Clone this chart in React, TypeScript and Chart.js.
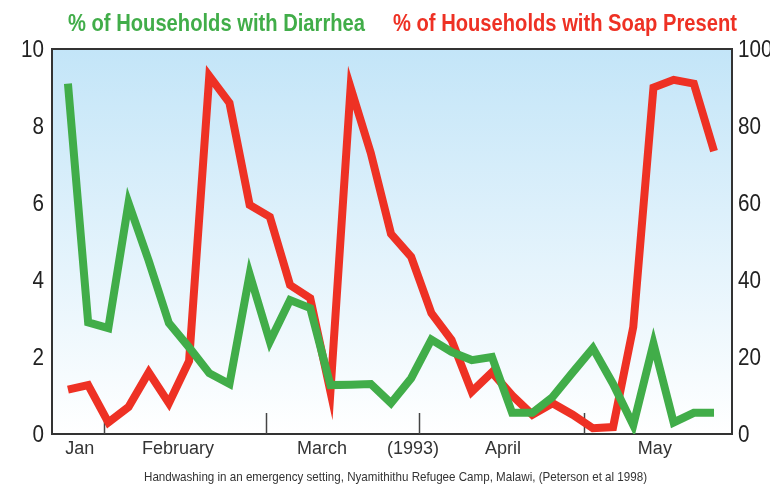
import React, { useEffect, useRef } from "react";
import { Chart, registerables } from "chart.js";

Chart.register(...registerables);

// Week index of each survey (evenly spaced observations)
const weeks = [0, 1, 2, 3, 4, 5, 6, 7, 8, 9, 10, 11, 12, 13, 14, 15, 16, 17, 18, 19, 20, 21, 22, 23, 24, 25, 26, 27, 28, 29, 30, 31, 32];

// % of households with diarrhea (left axis, 0-10)
const diarrhea = [9.1, 2.9, 2.75, 6.0, 4.5, 2.88, 2.25, 1.58, 1.3, 4.15, 2.4, 3.48, 3.27, 1.27, 1.28, 1.3, 0.8, 1.45, 2.45, 2.13, 1.92, 2.0, 0.55, 0.55, 0.96, 1.6, 2.23, 1.3, 0.23, 2.35, 0.3, 0.55, 0.55];

// % of households with soap present (right axis, 0-100)
const soap = [11.5, 12.7, 3, 7, 16, 8, 19, 93, 86, 59.5, 56.4, 38.7, 35.3, 11, 90, 73, 52, 46, 31.4, 24.4, 11, 16, 10, 5, 8, 5, 1.5, 1.8, 27.8, 90, 92, 91, 73.5];

// x-axis month labels and where they sit (in week units)
const monthLabels = ["Jan", "February", "March", "(1993)", "April", "May"];
const monthLabelPos = [0.59, 5.45, 12.58, 17.09, 21.55, 29.07];
const monthBoundaries = [1.78, 9.8, 17.38, 25.56];

const leftTicks = [0, 2, 4, 6, 8, 10];
const rightTicks = [0, 20, 40, 60, 80, 100];

const seriesNames = ["% of Households with Diarrhea", "% of Households with Soap Present"];
const caption = "Handwashing in an emergency setting, Nyamithithu Refugee Camp, Malawi, (Peterson et al 1998)";

const GREEN = "#41ad49";
const RED = "#ee3124";
const FONT = "'Liberation Sans', Arial, sans-serif";

// draw text horizontally condensed (no narrow face installed)
function narrowText(ctx: any, text: string, x: number, y: number, sx: number, align: string) {
  const w = ctx.measureText(text).width * sx;
  let left = x;
  if (align === "right") left = x - w;
  else if (align === "center") left = x - w / 2;
  ctx.save();
  ctx.textAlign = "left";
  ctx.translate(left, y);
  ctx.scale(sx, 1);
  ctx.fillText(text, 0, 0);
  ctx.restore();
}

function fitText(ctx: any, text: string, x: number, y: number, width: number, align: string) {
  const sx = width / ctx.measureText(text).width;
  narrowText(ctx, text, x, y, sx, align);
}

const decor = {
  id: "decor",
  beforeDraw(chart: any) {
    const { ctx, chartArea: a } = chart;
    ctx.save();
    const g = ctx.createLinearGradient(0, a.top, 0, a.bottom);
    g.addColorStop(0, "#c3e5f8");
    g.addColorStop(1, "#ffffff");
    ctx.fillStyle = g;
    ctx.fillRect(a.left, a.top, a.right - a.left, a.bottom - a.top);
    ctx.restore();
  },
  beforeDatasetsDraw(chart: any) {
    const { ctx, chartArea: a } = chart;
    const xs = chart.scales.x;
    ctx.save();
    ctx.strokeStyle = "#333";
    ctx.lineWidth = 2;
    ctx.strokeRect(a.left, a.top, a.right - a.left, a.bottom - a.top);
    ctx.strokeStyle = "#444";
    ctx.lineWidth = 1.5;
    monthBoundaries.forEach((v) => {
      const px = Math.round(xs.getPixelForValue(v)) + 0.5;
      ctx.beginPath();
      ctx.moveTo(px, a.bottom);
      ctx.lineTo(px, a.bottom - 21);
      ctx.stroke();
    });
    ctx.restore();
  },
  afterDraw(chart: any) {
    const { ctx, chartArea: a } = chart;
    ctx.save();
    ctx.textBaseline = "alphabetic";
    // series titles
    ctx.font = `bold 24px ${FONT}`;
    ctx.fillStyle = GREEN;
    fitText(ctx, seriesNames[0], 68, 31, 297, "left");
    ctx.fillStyle = RED;
    fitText(ctx, seriesNames[1], 393, 31, 344, "left");
    // y axis labels (positions from the scales)
    ctx.font = `24px ${FONT}`;
    ctx.fillStyle = "#222";
    ctx.textBaseline = "middle";
    const ys = chart.scales.y;
    ys.ticks.forEach((t: any) => {
      narrowText(ctx, String(t.value), a.left - 8, ys.getPixelForValue(t.value) + 1, 0.86, "right");
    });
    const ys1 = chart.scales.y1;
    ys1.ticks.forEach((t: any) => {
      narrowText(ctx, String(t.value), a.right + 6, ys1.getPixelForValue(t.value) + 1, 0.86, "left");
    });
    // caption
    ctx.textBaseline = "alphabetic";
    ctx.font = `13px ${FONT}`;
    ctx.fillStyle = "#333";
    fitText(ctx, caption, 395.5, 481, 503, "center");
    ctx.restore();
  },
};

export default function App() {
  const ref = useRef<HTMLCanvasElement | null>(null);

  useEffect(() => {
    document.body.style.margin = "0";
    const canvas = ref.current;
    if (!canvas) return;
    const chart = new Chart(canvas, {
      type: "line",
      data: {
        datasets: [
          {
            label: seriesNames[0],
            data: weeks.map((w, i) => ({ x: w, y: diarrhea[i] })),
            borderColor: GREEN,
            borderWidth: 8,
            borderJoinStyle: "miter",
            borderCapStyle: "butt",
            pointRadius: 0,
            tension: 0,
            yAxisID: "y",
          },
          {
            label: seriesNames[1],
            data: weeks.map((w, i) => ({ x: w, y: soap[i] })),
            borderColor: RED,
            borderWidth: 8,
            borderJoinStyle: "miter",
            borderCapStyle: "butt",
            pointRadius: 0,
            tension: 0,
            yAxisID: "y1",
          },
        ],
      },
      options: {
        responsive: false,
        animation: false,
        layout: { padding: { left: 0, right: 0, top: 49, bottom: 0 } },
        plugins: { legend: { display: false }, tooltip: { enabled: false }, title: { display: false } },
        scales: {
          x: {
            type: "linear",
            min: -0.79,
            max: 32.89,
            grid: { display: false, drawTicks: false },
            border: { display: false },
            afterBuildTicks: (s: any) => {
              s.ticks = monthLabelPos.map((v) => ({ value: v }));
            },
            afterFit: (s: any) => {
              s.height = 50;
            },
            ticks: {
              autoSkip: false,
              maxRotation: 0,
              padding: 4,
              color: "#333",
              font: { family: FONT, size: 18 },
              callback: (_v: any, i: number) => monthLabels[i],
            },
          },
          y: {
            position: "left",
            min: 0,
            max: 10,
            grid: { display: false, drawTicks: false },
            border: { display: false },
            afterBuildTicks: (s: any) => {
              s.ticks = leftTicks.map((v) => ({ value: v }));
            },
            afterFit: (s: any) => {
              s.width = 52;
            },
            ticks: { display: false },
          },
          y1: {
            position: "right",
            min: 0,
            max: 100,
            grid: { display: false, drawTicks: false },
            border: { display: false },
            afterBuildTicks: (s: any) => {
              s.ticks = rightTicks.map((v) => ({ value: v }));
            },
            afterFit: (s: any) => {
              s.width = 38;
            },
            ticks: { display: false },
          },
        },
      },
      plugins: [decor],
    } as any);
    return () => chart.destroy();
  }, []);

  return <canvas ref={ref} width={770} height={484} style={{ display: "block" }} />;
}
